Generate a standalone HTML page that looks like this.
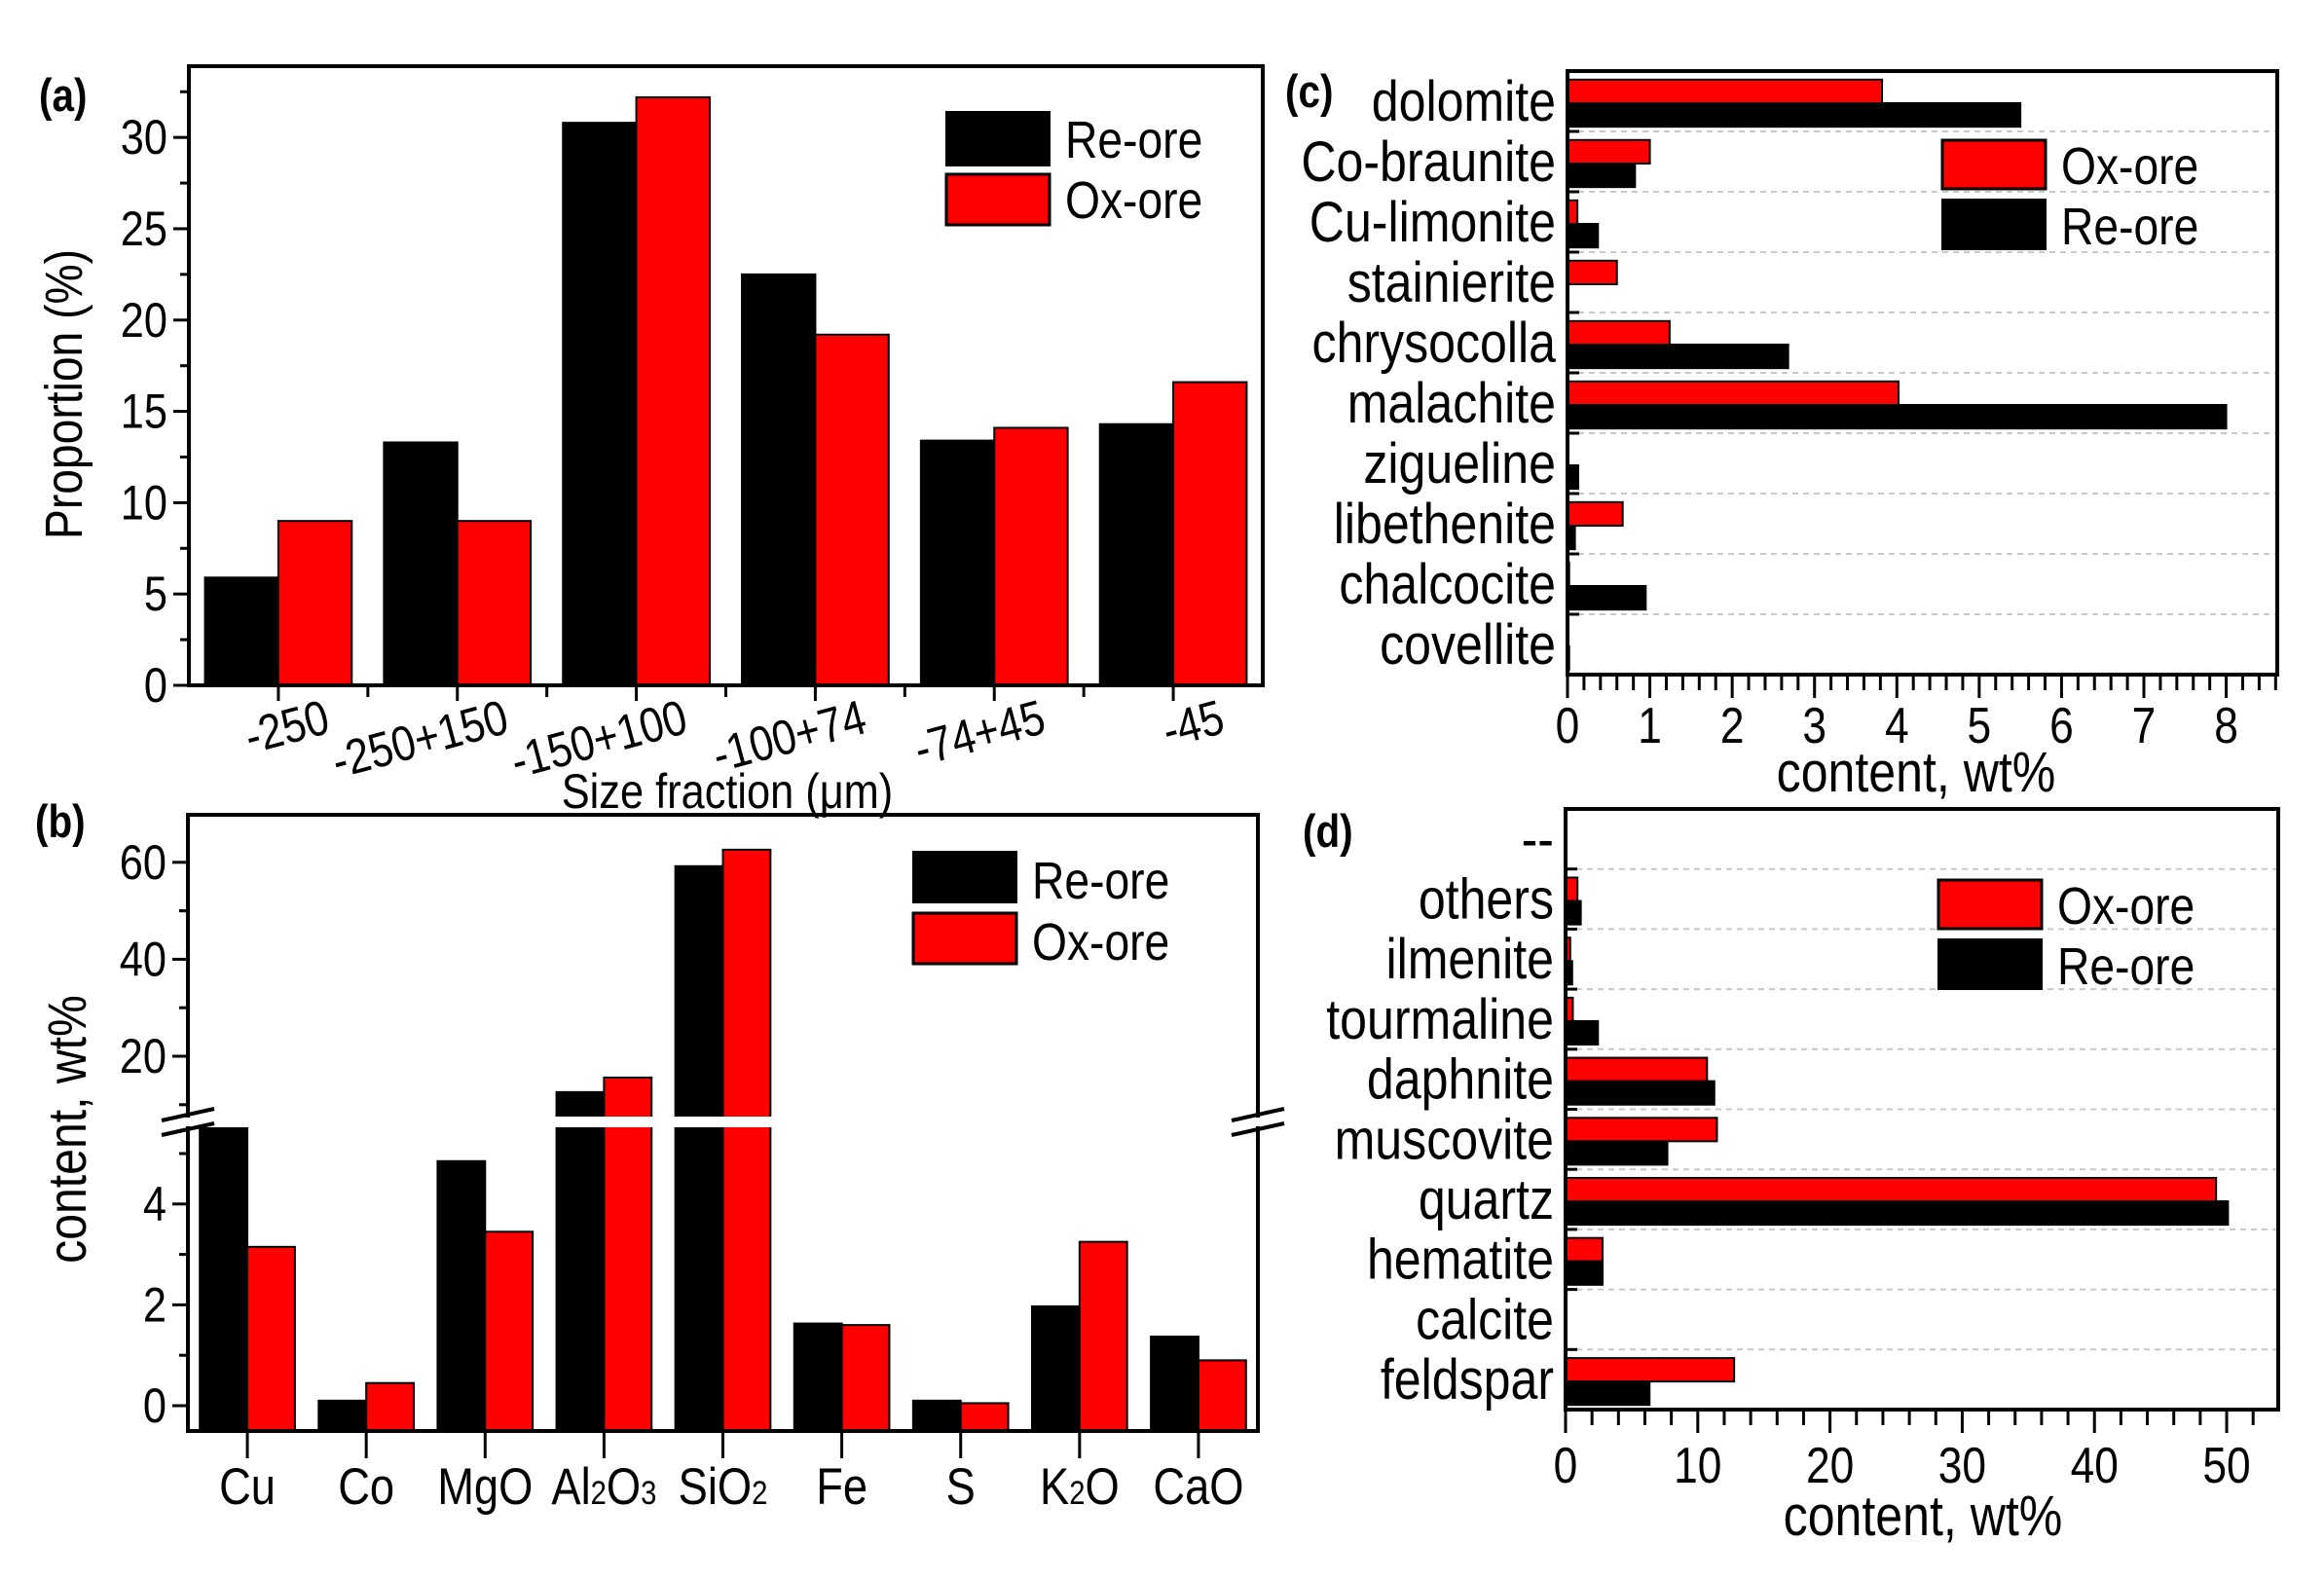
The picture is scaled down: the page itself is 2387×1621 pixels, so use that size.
<!DOCTYPE html>
<html><head><meta charset="utf-8"><style>
html,body{margin:0;padding:0;background:#fff;}
svg{display:block;font-family:"Liberation Sans",sans-serif;}
</style></head><body>
<svg id="fig" width="2387" height="1621" viewBox="0 0 2387 1621" xmlns="http://www.w3.org/2000/svg"></svg>
<script>
// ---- Panel (a) data ----
const aCats = ["-250","-250+150","-150+100","-100+74","-74+45","-45"];
const aRe = [5.9, 13.3, 30.8, 22.5, 13.4, 14.3];
const aOx = [9.0, 9.0, 32.2, 19.2, 14.1, 16.6];
const aTicks = [0,5,10,15,20,25,30];
// ---- Panel (b) data ----
const bCats = ["Cu","Co","MgO","Al2O3","SiO2","Fe","S","K2O","CaO"];
const bRe = [5.55, 0.1, 4.85, 12.6, 59.2, 1.63, 0.1, 1.97, 1.37];
const bOx = [3.15, 0.45, 3.45, 15.6, 62.6, 1.6, 0.05, 3.25, 0.9];
const bTicksLow = [0,2,4];
const bTicksHigh = [20,40,60];
// ---- Panel (c) data ----
const cCats = ["dolomite","Co-braunite","Cu-limonite","stainierite","chrysocolla","malachite","zigueline","libethenite","chalcocite","covellite"];
const cOx = [3.82, 1.0, 0.12, 0.6, 1.24, 4.02, 0, 0.67, 0.02, 0.01];
const cRe = [5.5, 0.82, 0.37, 0, 2.68, 8.0, 0.13, 0.09, 0.95, 0.02];
const cTicks = [0,1,2,3,4,5,6,7,8];
// ---- Panel (d) data ----
const dCats = ["--","others","ilmenite","tourmaline","daphnite","muscovite","quartz","hematite","calcite","feldspar"];
const dOx = [null, 0.9, 0.35, 0.55, 10.7, 11.45, 49.2, 2.8, 0, 12.75];
const dRe = [null, 1.15, 0.5, 2.45, 11.25, 7.7, 50.1, 2.8, 0, 6.35];
const dTicks = [0,10,20,30,40,50];

const NS="http://www.w3.org/2000/svg";
const svg=document.getElementById('fig');
function mk(tag,attrs,parent){const e=document.createElementNS(NS,tag);for(const k in attrs)e.setAttribute(k,attrs[k]);(parent||svg).appendChild(e);return e;}
function cond(attrs){
  const x=+attrs.x, y=+attrs.y;
  attrs['font-size']=(+attrs['font-size'])*1.12;
  attrs.transform=(attrs.transform||'')+` translate(${x} ${y}) scale(0.86 1) translate(${-x} ${-y})`;
  return attrs;
}
function txt(s,attrs,parent){const e=mk('text',cond(attrs),parent);e.textContent=s;return e;}
const RED="#ff0000";

// ================= Panel A =================
(function(){
  const g=mk('g',{});
  
  
  const L=194,R=1297,T=68,B=704,max=33.9;
  const y=v=>B-(v/max)*(B-T);
  const gw=(R-L)/aCats.length;
  const x=i=>L+gw*(i+0.5);
  const bw=gw*0.41;
  aCats.forEach((c,i)=>{
    const r1=mk('rect',{x:x(i)-bw,y:y(aRe[i]),width:bw,height:B-y(aRe[i]),fill:'#000',stroke:'#000','stroke-width':2},g);
    
    
    const r2=mk('rect',{x:x(i),y:y(aOx[i]),width:bw,height:B-y(aOx[i]),fill:RED,stroke:'#000','stroke-width':2},g);
    
    
    mk('line',{x1:x(i),x2:x(i),y1:B,y2:B+16,stroke:'#000','stroke-width':3},g);
    if(i>0) mk('line',{x1:L+gw*i,x2:L+gw*i,y1:B,y2:B+12,stroke:'#000','stroke-width':3},g);
    const t=txt(c,{x:x(i)+55,y:752,'text-anchor':'end','font-size':45,transform:`rotate(-15 ${x(i)+55} 752)`},g);
    
    
  });
  mk('rect',{x:L,y:T,width:R-L,height:B-T,fill:'none',stroke:'#000','stroke-width':4},g);
  aTicks.forEach(v=>{
    mk('line',{x1:L-16,x2:L,y1:y(v),y2:y(v),stroke:'#000','stroke-width':3},g);
    mk('line',{x1:L-9,x2:L,y1:y(v+2.5),y2:y(v+2.5),stroke:'#000','stroke-width':3},g);
    const t=txt(String(v),{x:L-22,y:y(v)+17,'text-anchor':'end','font-size':45},g);
    
    
  });
  const yt=txt('Proportion (%)',{x:0,y:0,'text-anchor':'middle','font-size':48,transform:'translate(84 405) rotate(-90)'},g);
  
  
  const xt=txt('Size fraction (μm)',{x:747,y:830,'text-anchor':'middle','font-size':45},g);
  
  
  const pl=txt('(a)',{x:40,y:114,'font-size':42,'font-weight':'bold'},g);
  
  
  const lg=mk('g',{},g);
  
  
  mk('rect',{x:972,y:115,width:106,height:55,fill:'#000',stroke:'#000','stroke-width':2},lg);
  mk('rect',{x:972,y:179,width:106,height:52,fill:RED,stroke:'#000','stroke-width':3},lg);
  txt('Re-ore',{x:1094,y:162,'font-size':48},lg);
  txt('Ox-ore',{x:1094,y:224,'font-size':48},lg);
})();

// ================= Panel B =================
(function(){
  const g=mk('g',{});
  
  
  const L=193,R=1292,T=837,B=1470;
  const gapT=1147, gapB=1158;
  const low0=1444, lowK=51.8;
  const yLow=v=>low0-v*lowK;
  const hiK=4.98, hi20=1085;
  const yHi=v=>hi20-(v-20)*hiK;
  const lowTop=(low0-gapB)/lowK;
  const y=v=> v<=lowTop ? yLow(v) : yHi(v);
  const gw=(R-L)/bCats.length;
  const x=i=>L+gw*(i+0.5);
  const bw=gw*0.4;
  bCats.forEach((c,i)=>{
    [[bRe[i],'#000',-1,'re'],[bOx[i],RED,0,'ox']].forEach(([v,col,off,nm])=>{
      const r=mk('rect',{x:x(i)+off*bw,y:y(v),width:bw,height:B-y(v),fill:col,stroke:'#000','stroke-width':2},g);
      
      
    });
    mk('line',{x1:x(i),x2:x(i),y1:B,y2:B+28,stroke:'#000','stroke-width':3},g);
    let label;
    if(c==='Al2O3') label='Al<tspan font-size="34">2</tspan>O<tspan font-size="34">3</tspan>';
    else if(c==='SiO2') label='SiO<tspan font-size="34">2</tspan>';
    else if(c==='K2O') label='K<tspan font-size="34">2</tspan>O';
    else label=c;
    const t=mk('text',cond({x:x(i),y:1545,'text-anchor':'middle','font-size':47}),g);
    t.innerHTML=label;
    
    
  });
  mk('rect',{x:L+3,y:gapT,width:R-L-6,height:gapB-gapT,fill:'#fff'},g);
  mk('rect',{x:L,y:T,width:R-L,height:B-T,fill:'none',stroke:'#000','stroke-width':4},g);
  mk('rect',{x:L-4,y:gapT+1,width:8,height:gapB-gapT-2,fill:'#fff'},g);
  mk('rect',{x:R-4,y:gapT+1,width:8,height:gapB-gapT-2,fill:'#fff'},g);
  [L,R].forEach(xx=>{
    mk('line',{x1:xx-27,x2:xx+27,y1:gapT+4,y2:gapT-8,stroke:'#000','stroke-width':4},g);
    mk('line',{x1:xx-27,x2:xx+27,y1:gapB+8,y2:gapB-4,stroke:'#000','stroke-width':4},g);
  });
  bTicksLow.forEach(v=>{
    mk('line',{x1:L-16,x2:L,y1:yLow(v),y2:yLow(v),stroke:'#000','stroke-width':3},g);
    mk('line',{x1:L-9,x2:L,y1:yLow(v+1),y2:yLow(v+1),stroke:'#000','stroke-width':3},g);
    const t=txt(String(v),{x:L-22,y:yLow(v)+17,'text-anchor':'end','font-size':45},g);
    
    
  });
  bTicksHigh.forEach(v=>{
    mk('line',{x1:L-16,x2:L,y1:yHi(v),y2:yHi(v),stroke:'#000','stroke-width':3},g);
    mk('line',{x1:L-9,x2:L,y1:yHi(v-10),y2:yHi(v-10),stroke:'#000','stroke-width':3},g);
    const t=txt(String(v),{x:L-22,y:yHi(v)+17,'text-anchor':'end','font-size':45},g);
    
    
  });
  mk('line',{x1:L-9,x2:L,y1:yHi(50),y2:yHi(50),stroke:'#000','stroke-width':3},g);
  const yt=txt('content, wt%',{x:0,y:0,'text-anchor':'middle','font-size':50,transform:'translate(88 1160) rotate(-90)'},g);
  
  
  const pl=txt('(b)',{x:36,y:860,'font-size':42,'font-weight':'bold'},g);
  
  
  const lg=mk('g',{},g);
  
  
  mk('rect',{x:938,y:875,width:106,height:52,fill:'#000',stroke:'#000','stroke-width':2},lg);
  mk('rect',{x:938,y:938,width:106,height:52,fill:RED,stroke:'#000','stroke-width':3},lg);
  txt('Re-ore',{x:1060,y:923,'font-size':48},lg);
  txt('Ox-ore',{x:1060,y:986,'font-size':48},lg);
})();

// ================= Horizontal panels =================
function hPanel(o){
  const g=mk('g',{});
  
  
  const {L,R,T,B,max,cats,ox,re,ticks,minor}=o;
  const x=v=>L+(v/max)*(R-L);
  const rh=(B-T)/cats.length;
  const bh=rh*0.39;
  cats.forEach((c,i)=>{
    const top=T+rh*i, mid=top+rh*0.5+2;
    if(i>0){
      mk('line',{x1:L,x2:R,y1:top,y2:top,stroke:'#c8c8c8','stroke-width':2,'stroke-dasharray':'6 5'},g);
      mk('line',{x1:L,x2:L+12,y1:top,y2:top,stroke:'#000','stroke-width':3},g);
    }
    if(ox[i]!==null){
      const r=mk('rect',{x:L,y:mid-bh,width:x(ox[i])-L,height:bh,fill:RED,stroke:'#000','stroke-width':2},g);
      
      
      const r2=mk('rect',{x:L,y:mid,width:x(re[i])-L,height:bh,fill:'#000',stroke:'#000','stroke-width':2},g);
      
      
    }
    const t=txt(c,{x:L-12,y:top+rh*0.5+20,'text-anchor':'end','font-size':52},g);
    
    
  });
  mk('rect',{x:L,y:T,width:R-L,height:B-T,fill:'none',stroke:'#000','stroke-width':4},g);
  for(let v=0; v<=max+1e-9; v+=minor){
    const isMaj=ticks.some(t=>Math.abs(t-v)<1e-6);
    mk('line',{x1:x(v),x2:x(v),y1:B,y2:B+(isMaj?24:16),stroke:'#000','stroke-width':3},g);
  }
  ticks.forEach(v=>{
    const t=txt(String(v),{x:x(v),y:o.tickY,'text-anchor':'middle','font-size':46},g);
    
    
  });
  const xt=txt('content, wt%',{x:o.titleX,y:o.titleY,'text-anchor':'middle','font-size':52},g);
  
  
  const pl=txt(o.label,{x:o.lx,y:o.ly,'font-size':42,'font-weight':'bold'},g);
  
  
  const lg=mk('g',{},g);
  
  
  mk('rect',{x:o.legX,y:o.legY,width:106,height:50,fill:RED,stroke:'#000','stroke-width':3},lg);
  mk('rect',{x:o.legX,y:o.legY+61,width:106,height:51,fill:'#000',stroke:'#000','stroke-width':2},lg);
  txt('Ox-ore',{x:o.legX+122,y:o.legY+45,'font-size':48},lg);
  txt('Re-ore',{x:o.legX+122,y:o.legY+107,'font-size':48},lg);
}
hPanel({name:'panel-c',L:1610,R:2339,T:73,B:693,max:8.62,cats:cCats,ox:cOx,re:cRe,ticks:cTicks,minor:0.2,
  tickY:763,titleX:1968,titleY:813,label:'(c)',lx:1320,ly:110,legX:1995,legY:144});
hPanel({name:'panel-d',L:1608,R:2340,T:831,B:1448,max:53.9,cats:dCats,ox:dOx,re:dRe,ticks:dTicks,minor:2,
  tickY:1523,titleX:1975,titleY:1577,label:'(d)',lx:1338,ly:870,legX:1991,legY:904});
</script>
</body></html>
